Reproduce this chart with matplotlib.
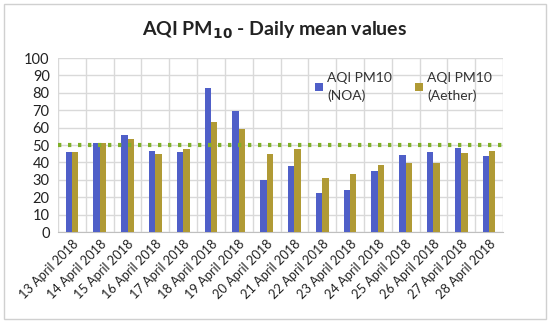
import matplotlib
matplotlib.use("Agg")
import matplotlib.pyplot as plt
import numpy as np
from matplotlib.patches import Rectangle

dates = ["13 April 2018", "14 April 2018", "15 April 2018", "16 April 2018",
         "17 April 2018", "18 April 2018", "19 April 2018", "20 April 2018",
         "21 April 2018", "22 April 2018", "23 April 2018", "24 April 2018",
         "25 April 2018", "26 April 2018", "27 April 2018", "28 April 2018"]
noa = [45.8, 51.1, 55.9, 46.8, 46.0, 83.0, 69.5, 29.7, 37.7, 22.7, 24.4, 35.0, 44.3, 46.0, 48.1, 43.5]
aether = [45.8, 51.1, 53.2, 44.9, 47.9, 63.4, 59.1, 44.7, 47.5, 31.2, 33.1, 38.6, 39.8, 39.8, 45.2, 46.8]
limit = 50
yticks = list(range(0, 101, 10))

plt.rcParams['font.family'] = ['Lato', 'DejaVu Sans']

fig = plt.figure(figsize=(5.5, 3.23), dpi=100)
fig.patches.append(Rectangle((0.008, 0.012), 0.984, 0.976, transform=fig.transFigure,
                             fill=False, edgecolor='#d0d0d0', linewidth=1.0))
ax = fig.add_axes([0.1055, 0.2817, 0.809, 0.5387])

x = np.arange(len(dates))
w = 0.23
ax.bar(x - w / 2, noa, width=w, color='#4f5fc8', label='AQI PM10\n(NOA)', zorder=3)
ax.bar(x + w / 2, aether, width=w, color='#b09a35', label='AQI PM10\n(Aether)', zorder=3)
ax.axhline(limit, color='#7fb02a', linestyle=(0, (0.8, 1.6)), linewidth=3.0, zorder=4)

ax.set_xlim(-0.5, len(dates) - 0.5)
ax.set_ylim(0, 100)
ax.set_yticks(yticks)
ax.set_xticks(x)
ax.set_xticklabels(dates, rotation=45, ha='right', rotation_mode='anchor', fontsize=9.2, color='#222222')
ax.set_xticks(np.arange(-0.5, len(dates), 1), minor=True)
ax.tick_params(axis='x', which='both', length=0, pad=4)
ax.tick_params(axis='y', length=0, labelsize=10.5, labelcolor='#222222', pad=6)
ax.grid(axis='y', which='major', color='#d9d9d9', linewidth=1, zorder=0)
ax.grid(axis='x', which='minor', color='#d9d9d9', linewidth=1, zorder=0)
for s in ['left', 'right', 'top']:
    ax.spines[s].set_visible(False)
ax.spines['bottom'].set_color('#bfbfbf')

fig.text(0.5, 0.905, r'AQI PM$_\mathbf{10}$ - Daily mean values', ha='center', va='center',
         fontsize=14, fontweight='bold', color='#222222')

leg = ax.legend(loc='upper left', bbox_to_anchor=(0.565, 0.95), ncol=2, frameon=False,
                fontsize=10, handlelength=0.6, handleheight=0.6, handletextpad=0.3,
                columnspacing=1.6, borderaxespad=0)
for t in leg.get_texts():
    t.set_color('#333333')
    t.set_linespacing(1.45)

fig.savefig('out.png', dpi=100)
